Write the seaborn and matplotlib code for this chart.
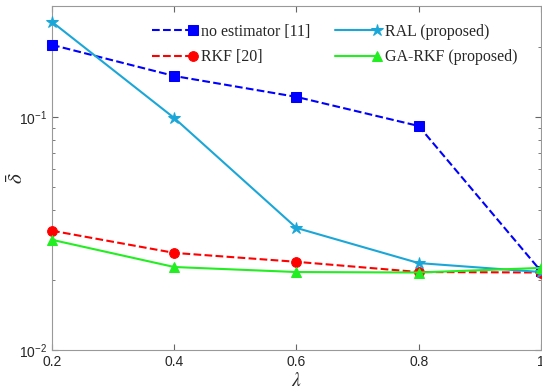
import seaborn as sns
import matplotlib.pyplot as plt
import pandas as pd
from matplotlib.legend_handler import HandlerLine2D

sns.set_style("ticks")
plt.rcParams['font.family'] = ['Liberation Sans', 'DejaVu Sans']
plt.rcParams['mathtext.fontset'] = 'stix'

# data
lam = [0.2, 0.4, 0.6, 0.8, 1.0]
no_est = [0.204, 0.150, 0.122, 0.0915, 0.0218]
rkf = [0.0325, 0.0261, 0.0239, 0.0216, 0.0215]
ral = [0.256, 0.099, 0.0334, 0.0236, 0.0216]
ga_rkf = [0.0297, 0.0227, 0.0216, 0.0215, 0.0225]
names = ["no estimator [11]", "RKF [20]", "RAL (proposed)", "GA-RKF (proposed)"]
xtick_labels = ["0.2", "0.4", "0.6", "0.8", "1"]

series = [no_est, rkf, ral, ga_rkf]
colors = ["#0000FF", "#FF0000", "#1AA7D8", "#22EE22"]
styles = ["--", "--", "-", "-"]
markers = ["s", "o", "*", "^"]
msizes = [7, 7, 9, 7]


class EndMarker(HandlerLine2D):
    # put the marker at the right end of the legend line (matlab look)
    def create_artists(self, *args, **kwargs):
        arts = super().create_artists(*args, **kwargs)
        for a in arts:
            if len(a.get_xdata()) == 3:
                a.set_markevery([2])
        return arts


fig = plt.figure(figsize=(5.42, 3.91), dpi=100)
ax = fig.add_axes([0.096, 0.105, 0.902, 0.880])

for name, vals, c, ls, m, ms in zip(names, series, colors, styles, markers, msizes):
    df = pd.DataFrame({"lam": lam, "val": vals})
    sns.lineplot(data=df, x="lam", y="val", ax=ax, color=c, linestyle=ls,
                 marker=m, markersize=ms, markeredgecolor=c, linewidth=1.5,
                 label=name, clip_on=False, zorder=3)

ax.set_yscale("log")
ax.set_xlim(0.2, 1.0)
ax.set_ylim(0.01, 0.3)
ax.set_xticks(lam)
ax.set_xticklabels(xtick_labels)
ax.set_xlabel(r"$\lambda$", fontsize=14, labelpad=2)
ax.set_ylabel(r"$\bar{\delta}$", fontsize=15, labelpad=-6)
ax.tick_params(which="both", direction="in", top=True, right=True,
               labelsize=10, color="0.4")
ax.tick_params(which="major", length=4)
ax.tick_params(which="minor", length=2)
for s in ax.spines.values():
    s.set_color("0.6")

h, l = ax.get_legend_handles_labels()
ax.legend(h, l, ncol=2, loc="upper right", frameon=False,
          prop={"family": "Liberation Serif", "size": 11.5},
          handlelength=2.6, handletextpad=0.5, columnspacing=1.55,
          labelspacing=0.6, bbox_to_anchor=(0.981, 0.99),
          handler_map={plt.Line2D: EndMarker(numpoints=1)})

fig.savefig("out.png", dpi=100)
